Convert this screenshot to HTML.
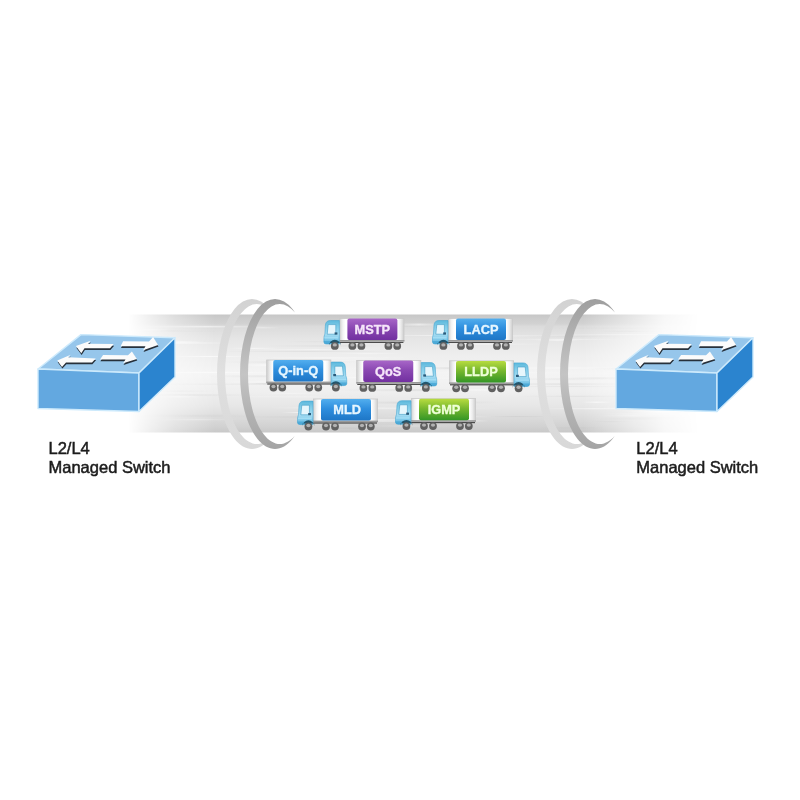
<!DOCTYPE html>
<html><head><meta charset="utf-8"><style>
html,body{margin:0;padding:0;background:#fff;}
body{width:800px;height:800px;overflow:hidden;position:relative;}
svg{position:absolute;left:0;top:0;filter:blur(0.45px);}
.tl{font-family:"Liberation Sans",sans-serif;font-weight:bold;font-size:12.8px;stroke-width:0.35px;}
.cap{position:absolute;font-family:"Liberation Sans",sans-serif;font-size:16.5px;line-height:19px;color:#1c1c1c;white-space:nowrap;-webkit-text-stroke:0.5px #1c1c1c;filter:blur(0.35px);}
</style></head><body>
<svg width="800" height="800" viewBox="0 0 800 800">
<defs>
<linearGradient id="tubeV" x1="0" y1="0" x2="0" y2="1">
<stop offset="0" stop-color="#c6c6c6"/>
<stop offset="0.03" stop-color="#cccccc"/>
<stop offset="0.08" stop-color="#d2d2d2"/>
<stop offset="0.10" stop-color="#dbdbdb"/>
<stop offset="0.20" stop-color="#e5e5e5"/>
<stop offset="0.35" stop-color="#eeeeee"/>
<stop offset="0.5" stop-color="#f4f4f4"/>
<stop offset="0.65" stop-color="#efefef"/>
<stop offset="0.78" stop-color="#e6e6e6"/>
<stop offset="0.88" stop-color="#dadada"/>
<stop offset="0.96" stop-color="#d0d0d0"/>
<stop offset="1" stop-color="#c8c8c8"/>
</linearGradient>
<linearGradient id="fadeH" x1="125" y1="0" x2="705" y2="0" gradientUnits="userSpaceOnUse">
<stop offset="0.005" stop-color="#fff" stop-opacity="0"/>
<stop offset="0.043" stop-color="#fff" stop-opacity="0.3"/>
<stop offset="0.086" stop-color="#fff" stop-opacity="0.62"/>
<stop offset="0.155" stop-color="#fff" stop-opacity="1"/>
<stop offset="0.79" stop-color="#fff" stop-opacity="1"/>
<stop offset="0.87" stop-color="#fff" stop-opacity="0.5"/>
<stop offset="0.93" stop-color="#fff" stop-opacity="0.15"/>
<stop offset="0.99" stop-color="#fff" stop-opacity="0"/>
</linearGradient>
<mask id="tubeMask" maskUnits="userSpaceOnUse" x="0" y="0" width="800" height="800">
<rect x="0" y="0" width="800" height="800" fill="url(#fadeH)"/>
</mask>
<linearGradient id="stW" x1="0" y1="0" x2="1" y2="0">
<stop offset="0" stop-color="#ffffff" stop-opacity="0"/>
<stop offset="0.5" stop-color="#ffffff" stop-opacity="1"/>
<stop offset="1" stop-color="#ffffff" stop-opacity="0"/>
</linearGradient>
<linearGradient id="stG" x1="0" y1="0" x2="1" y2="0">
<stop offset="0" stop-color="#b8b8b8" stop-opacity="0"/>
<stop offset="0.5" stop-color="#b8b8b8" stop-opacity="1"/>
<stop offset="1" stop-color="#b8b8b8" stop-opacity="0"/>
</linearGradient>
<linearGradient id="ringF" x1="0" y1="0" x2="0" y2="1">
<stop offset="0" stop-color="#9e9e9e"/>
<stop offset="0.3" stop-color="#b6b6b6"/>
<stop offset="0.5" stop-color="#c4c4c4"/>
<stop offset="0.7" stop-color="#b6b6b6"/>
<stop offset="1" stop-color="#a4a4a4"/>
</linearGradient>
<linearGradient id="ringB" x1="0" y1="0" x2="0" y2="1">
<stop offset="0" stop-color="#d2d2d2"/>
<stop offset="0.5" stop-color="#e0e0e0"/>
<stop offset="1" stop-color="#d8d8d8"/>
</linearGradient>
<linearGradient id="trl" x1="0" y1="0" x2="1" y2="0">
<stop offset="0" stop-color="#d4d4d4"/>
<stop offset="0.05" stop-color="#f4f4f4"/>
<stop offset="0.09" stop-color="#ffffff"/>
<stop offset="0.9" stop-color="#ffffff"/>
<stop offset="0.95" stop-color="#ececec"/>
<stop offset="1" stop-color="#cccccc"/>
</linearGradient>
<linearGradient id="cab" x1="0" y1="0" x2="0" y2="1">
<stop offset="0" stop-color="#5cb8dc"/>
<stop offset="0.25" stop-color="#80cce8"/>
<stop offset="0.6" stop-color="#a4dcf2"/>
<stop offset="1" stop-color="#5cb6e0"/>
</linearGradient>
<linearGradient id="purple" x1="0" y1="0" x2="0" y2="1">
<stop offset="0" stop-color="#a866c8"/>
<stop offset="0.45" stop-color="#8a48b2"/>
<stop offset="1" stop-color="#7230a0"/>
</linearGradient>
<linearGradient id="blue" x1="0" y1="0" x2="0" y2="1">
<stop offset="0" stop-color="#52aeee"/>
<stop offset="0.45" stop-color="#2e8ede"/>
<stop offset="1" stop-color="#1e76c6"/>
</linearGradient>
<linearGradient id="green" x1="0" y1="0" x2="0" y2="1">
<stop offset="0" stop-color="#b8dc40"/>
<stop offset="0.45" stop-color="#78b82e"/>
<stop offset="1" stop-color="#349626"/>
</linearGradient>
<clipPath id="clipR252"><rect x="192" y="280" width="72" height="200"/></clipPath><clipPath id="clipR275"><rect x="215" y="280" width="80" height="200"/></clipPath><clipPath id="clipR572"><rect x="512" y="280" width="72" height="200"/></clipPath><clipPath id="clipR595"><rect x="535" y="280" width="80" height="200"/></clipPath>
</defs>
<g mask="url(#tubeMask)">
<rect x="125" y="314.5" width="580" height="118" fill="url(#tubeV)"/>
<rect x="600.6" y="413.5" width="99.8" height="1" fill="url(#stW)" opacity="0.51"/><rect x="439.3" y="371.4" width="57.9" height="1" fill="url(#stW)" opacity="0.35"/><rect x="355.6" y="408.1" width="140.8" height="1" fill="url(#stG)" opacity="0.24"/><rect x="245.8" y="327.3" width="34.5" height="1" fill="url(#stW)" opacity="0.45"/><rect x="379.9" y="416.1" width="129.4" height="1" fill="url(#stW)" opacity="0.40"/><rect x="239.4" y="364.2" width="73.4" height="2" fill="url(#stW)" opacity="0.57"/><rect x="154.7" y="330.1" width="32.5" height="1" fill="url(#stG)" opacity="0.16"/><rect x="326.7" y="427.4" width="41.0" height="1.5" fill="url(#stG)" opacity="0.28"/><rect x="127.9" y="330.7" width="91.5" height="1" fill="url(#stG)" opacity="0.15"/><rect x="373.1" y="335.0" width="132.3" height="1" fill="url(#stW)" opacity="0.48"/><rect x="325.3" y="407.7" width="178.5" height="1.5" fill="url(#stW)" opacity="0.60"/><rect x="217.4" y="350.9" width="179.4" height="1" fill="url(#stG)" opacity="0.24"/><rect x="254.3" y="359.6" width="145.9" height="1" fill="url(#stW)" opacity="0.40"/><rect x="451.0" y="327.8" width="32.3" height="1" fill="url(#stW)" opacity="0.52"/><rect x="418.8" y="371.8" width="160.0" height="1" fill="url(#stW)" opacity="0.35"/><rect x="218.7" y="361.2" width="140.9" height="2" fill="url(#stG)" opacity="0.16"/><rect x="339.2" y="377.2" width="45.6" height="1" fill="url(#stW)" opacity="0.64"/><rect x="338.8" y="367.6" width="165.7" height="1" fill="url(#stW)" opacity="0.48"/><rect x="459.8" y="335.4" width="122.4" height="1" fill="url(#stW)" opacity="0.37"/><rect x="333.9" y="353.1" width="67.4" height="1" fill="url(#stW)" opacity="0.40"/><rect x="354.2" y="325.9" width="79.6" height="1" fill="url(#stG)" opacity="0.22"/><rect x="366.9" y="425.5" width="83.6" height="1" fill="url(#stW)" opacity="0.31"/><rect x="285.8" y="419.1" width="179.9" height="1" fill="url(#stW)" opacity="0.49"/><rect x="485.9" y="383.2" width="149.0" height="2" fill="url(#stG)" opacity="0.19"/><rect x="336.9" y="389.2" width="148.6" height="2" fill="url(#stG)" opacity="0.23"/><rect x="157.6" y="395.4" width="43.6" height="2" fill="url(#stW)" opacity="0.39"/><rect x="502.2" y="367.5" width="117.1" height="1" fill="url(#stW)" opacity="0.59"/><rect x="281.3" y="412.0" width="43.2" height="1" fill="url(#stW)" opacity="0.64"/><rect x="598.6" y="415.3" width="68.4" height="1" fill="url(#stW)" opacity="0.41"/><rect x="298.1" y="419.9" width="169.5" height="2" fill="url(#stW)" opacity="0.38"/><rect x="344.1" y="401.6" width="150.9" height="2" fill="url(#stG)" opacity="0.30"/><rect x="229.1" y="347.8" width="50.2" height="1" fill="url(#stW)" opacity="0.61"/><rect x="263.9" y="392.8" width="55.4" height="1" fill="url(#stW)" opacity="0.40"/><rect x="390.4" y="367.2" width="130.8" height="2" fill="url(#stG)" opacity="0.29"/><rect x="264.6" y="345.2" width="121.1" height="1.5" fill="url(#stG)" opacity="0.18"/><rect x="129.9" y="344.2" width="50.4" height="1.5" fill="url(#stW)" opacity="0.31"/><rect x="144.4" y="325.9" width="124.4" height="1.5" fill="url(#stW)" opacity="0.52"/><rect x="223.7" y="380.8" width="101.3" height="2" fill="url(#stW)" opacity="0.30"/><rect x="237.8" y="396.2" width="146.8" height="1" fill="url(#stW)" opacity="0.63"/><rect x="591.2" y="421.1" width="43.1" height="1" fill="url(#stG)" opacity="0.26"/><rect x="581.4" y="401.5" width="31.0" height="1.5" fill="url(#stW)" opacity="0.53"/><rect x="226.5" y="416.5" width="138.3" height="1" fill="url(#stG)" opacity="0.25"/><rect x="629.9" y="347.2" width="176.6" height="1.5" fill="url(#stW)" opacity="0.58"/><rect x="128.1" y="342.1" width="105.7" height="2" fill="url(#stW)" opacity="0.42"/><rect x="134.8" y="371.9" width="151.4" height="1" fill="url(#stW)" opacity="0.58"/><rect x="596.3" y="417.7" width="100.6" height="2" fill="url(#stG)" opacity="0.30"/><rect x="613.6" y="372.2" width="42.9" height="1.5" fill="url(#stW)" opacity="0.48"/><rect x="205.5" y="375.3" width="107.1" height="2" fill="url(#stG)" opacity="0.17"/><rect x="436.9" y="389.2" width="75.7" height="1.5" fill="url(#stW)" opacity="0.49"/><rect x="398.7" y="401.6" width="105.5" height="1" fill="url(#stG)" opacity="0.13"/><rect x="536.6" y="408.2" width="114.4" height="1" fill="url(#stW)" opacity="0.54"/><rect x="598.8" y="370.7" width="150.1" height="2" fill="url(#stW)" opacity="0.39"/><rect x="544.2" y="334.1" width="165.1" height="1" fill="url(#stW)" opacity="0.41"/><rect x="255.3" y="396.0" width="135.3" height="1" fill="url(#stG)" opacity="0.13"/><rect x="287.5" y="341.2" width="83.3" height="1" fill="url(#stG)" opacity="0.14"/><rect x="493.2" y="378.1" width="135.2" height="2" fill="url(#stG)" opacity="0.12"/><rect x="399.9" y="377.7" width="159.6" height="1" fill="url(#stW)" opacity="0.38"/><rect x="565.5" y="377.5" width="64.9" height="1" fill="url(#stG)" opacity="0.28"/><rect x="599.8" y="330.8" width="62.7" height="1" fill="url(#stG)" opacity="0.30"/><rect x="165.8" y="356.0" width="88.2" height="1" fill="url(#stW)" opacity="0.63"/><rect x="535.4" y="339.6" width="44.4" height="1.5" fill="url(#stW)" opacity="0.43"/><rect x="514.2" y="336.2" width="105.4" height="1" fill="url(#stG)" opacity="0.16"/><rect x="516.2" y="395.8" width="122.0" height="1" fill="url(#stG)" opacity="0.22"/><rect x="556.9" y="327.7" width="178.5" height="1" fill="url(#stG)" opacity="0.14"/><rect x="160.4" y="341.1" width="44.5" height="1.5" fill="url(#stW)" opacity="0.45"/><rect x="126.9" y="414.8" width="135.2" height="2" fill="url(#stG)" opacity="0.16"/><rect x="599.4" y="407.2" width="120.7" height="1.5" fill="url(#stW)" opacity="0.58"/><rect x="486.4" y="386.1" width="159.1" height="1" fill="url(#stG)" opacity="0.20"/><rect x="538.5" y="427.4" width="68.7" height="1" fill="url(#stG)" opacity="0.27"/><rect x="586.2" y="368.3" width="162.0" height="1" fill="url(#stG)" opacity="0.27"/><rect x="156.7" y="418.8" width="81.3" height="1.5" fill="url(#stW)" opacity="0.30"/><rect x="145.8" y="390.6" width="70.9" height="1" fill="url(#stG)" opacity="0.18"/><rect x="397.2" y="413.8" width="88.4" height="1" fill="url(#stG)" opacity="0.25"/><rect x="131.9" y="394.1" width="122.3" height="2" fill="url(#stG)" opacity="0.17"/><rect x="457.0" y="420.1" width="31.6" height="1.5" fill="url(#stW)" opacity="0.40"/><rect x="622.9" y="411.8" width="115.2" height="1" fill="url(#stG)" opacity="0.25"/><rect x="616.8" y="417.1" width="88.0" height="1" fill="url(#stG)" opacity="0.20"/><rect x="430.2" y="374.4" width="94.4" height="2" fill="url(#stW)" opacity="0.40"/><rect x="268.6" y="407.1" width="128.3" height="1.5" fill="url(#stW)" opacity="0.40"/><rect x="424.6" y="343.6" width="124.9" height="1" fill="url(#stW)" opacity="0.54"/><rect x="146.1" y="383.7" width="178.3" height="1" fill="url(#stG)" opacity="0.13"/><rect x="626.0" y="410.8" width="66.6" height="2" fill="url(#stW)" opacity="0.63"/><rect x="247.5" y="348.9" width="136.0" height="1" fill="url(#stW)" opacity="0.45"/><rect x="394.6" y="323.5" width="48.6" height="2" fill="url(#stW)" opacity="0.53"/><rect x="474.6" y="416.1" width="84.6" height="1" fill="url(#stG)" opacity="0.28"/><rect x="244.0" y="383.0" width="47.1" height="1.5" fill="url(#stG)" opacity="0.28"/><rect x="497.0" y="339.1" width="134.9" height="1" fill="url(#stW)" opacity="0.40"/><rect x="629.5" y="329.0" width="167.4" height="1" fill="url(#stG)" opacity="0.13"/><rect x="134.0" y="329.3" width="35.7" height="1" fill="url(#stW)" opacity="0.40"/><rect x="242.1" y="357.2" width="177.2" height="1.5" fill="url(#stW)" opacity="0.42"/>
</g>
<g clip-path="url(#clipR252)"><path fill-rule="evenodd" fill="url(#ringB)" d="M252,299 a35,75 0 1,0 0.01,0 Z M256.8,304 a31.8,70 0 1,0 0.01,0 Z"/></g>
<g clip-path="url(#clipR275)"><path fill-rule="evenodd" fill="url(#ringF)" d="M275,299 a35,75 0 1,0 0.01,0 Z M279.8,304 a31.8,70 0 1,0 0.01,0 Z"/></g>
<g clip-path="url(#clipR572)"><path fill-rule="evenodd" fill="url(#ringB)" d="M572,299 a35,75 0 1,0 0.01,0 Z M576.8,304 a31.8,70 0 1,0 0.01,0 Z"/></g>
<g clip-path="url(#clipR595)"><path fill-rule="evenodd" fill="url(#ringF)" d="M595,299 a35,75 0 1,0 0.01,0 Z M599.8,304 a31.8,70 0 1,0 0.01,0 Z"/></g>
<g transform="translate(339.4,318)"><rect x="-9" y="23" width="73" height="2" fill="#4a4a4a"/><rect x="0.4" y="0.4" width="64.2" height="23" fill="url(#trl)" stroke="#c9c9c9" stroke-width="0.8"/><rect x="0" y="22" width="65" height="1.5" fill="#9a9a9a"/><path d="M0,2.5 L-9,2.5 Q-13.5,2.5 -14,7 L-14.5,16 Q-15.5,18 -15.5,21 L-15.5,24 Q-15.5,26 -13,26 L0,26 Z" fill="url(#cab)" stroke="#48a6d2" stroke-width="0.6"/><path d="M-11.2,6.6 L-3.6,6.6 L-3.6,16.2 L-12.2,16.2 Z" fill="#e6f6fc" stroke="#3f9ac4" stroke-width="0.6"/><rect x="-4.8" y="14.4" width="2.8" height="2.2" fill="#2a5a7a"/><path d="M-15,19 L-1.5,19 L-1.5,20.5 L-15,20.5 Z" fill="#a8e0f6" opacity="0.8"/><path d="M-15.5,23 L-6,23 L-6,26 L-13,26 Q-15.5,26 -15.5,24 Z" fill="#3c9fd0" opacity="0.6"/><path d="M-10.4,27.5 A5.8,5.8 0 0,1 1.2,27.5 L1.2,25 L-10.4,25 Z" fill="#23556c"/><circle cx="-4.6" cy="27.9" r="3.9" fill="#606060"/><ellipse cx="-4.6" cy="26.9" rx="2.1" ry="1.7" fill="#b2b2b2"/><circle cx="13" cy="27.9" r="3.9" fill="#606060"/><ellipse cx="13" cy="26.9" rx="2.1" ry="1.7" fill="#b2b2b2"/><circle cx="22" cy="27.9" r="3.9" fill="#606060"/><ellipse cx="22" cy="26.9" rx="2.1" ry="1.7" fill="#b2b2b2"/><circle cx="49" cy="27.9" r="3.9" fill="#606060"/><ellipse cx="49" cy="26.9" rx="2.1" ry="1.7" fill="#b2b2b2"/><circle cx="57.8" cy="27.9" r="3.9" fill="#606060"/><ellipse cx="57.8" cy="26.9" rx="2.1" ry="1.7" fill="#b2b2b2"/></g>
<rect x="347.4" y="318.5" width="50" height="21.5" rx="2" fill="url(#purple)"/>
<text x="372.4" y="333.8" text-anchor="middle" class="tl" fill="#f6e6fa" stroke="#f6e6fa">MSTP</text><g transform="translate(448,318)"><rect x="-9" y="23" width="73" height="2" fill="#4a4a4a"/><rect x="0.4" y="0.4" width="64.2" height="23" fill="url(#trl)" stroke="#c9c9c9" stroke-width="0.8"/><rect x="0" y="22" width="65" height="1.5" fill="#9a9a9a"/><path d="M0,2.5 L-9,2.5 Q-13.5,2.5 -14,7 L-14.5,16 Q-15.5,18 -15.5,21 L-15.5,24 Q-15.5,26 -13,26 L0,26 Z" fill="url(#cab)" stroke="#48a6d2" stroke-width="0.6"/><path d="M-11.2,6.6 L-3.6,6.6 L-3.6,16.2 L-12.2,16.2 Z" fill="#e6f6fc" stroke="#3f9ac4" stroke-width="0.6"/><rect x="-4.8" y="14.4" width="2.8" height="2.2" fill="#2a5a7a"/><path d="M-15,19 L-1.5,19 L-1.5,20.5 L-15,20.5 Z" fill="#a8e0f6" opacity="0.8"/><path d="M-15.5,23 L-6,23 L-6,26 L-13,26 Q-15.5,26 -15.5,24 Z" fill="#3c9fd0" opacity="0.6"/><path d="M-10.4,27.5 A5.8,5.8 0 0,1 1.2,27.5 L1.2,25 L-10.4,25 Z" fill="#23556c"/><circle cx="-4.6" cy="27.9" r="3.9" fill="#606060"/><ellipse cx="-4.6" cy="26.9" rx="2.1" ry="1.7" fill="#b2b2b2"/><circle cx="13" cy="27.9" r="3.9" fill="#606060"/><ellipse cx="13" cy="26.9" rx="2.1" ry="1.7" fill="#b2b2b2"/><circle cx="22" cy="27.9" r="3.9" fill="#606060"/><ellipse cx="22" cy="26.9" rx="2.1" ry="1.7" fill="#b2b2b2"/><circle cx="49" cy="27.9" r="3.9" fill="#606060"/><ellipse cx="49" cy="26.9" rx="2.1" ry="1.7" fill="#b2b2b2"/><circle cx="57.8" cy="27.9" r="3.9" fill="#606060"/><ellipse cx="57.8" cy="26.9" rx="2.1" ry="1.7" fill="#b2b2b2"/></g>
<rect x="456" y="318.5" width="50" height="21.5" rx="2" fill="url(#blue)"/>
<text x="481" y="333.8" text-anchor="middle" class="tl" fill="#e6f6ff" stroke="#e6f6ff">LACP</text><g transform="translate(331.25,359.6) scale(-1,1)"><rect x="-9" y="23" width="73" height="2" fill="#4a4a4a"/><rect x="0.4" y="0.4" width="64.2" height="23" fill="url(#trl)" stroke="#c9c9c9" stroke-width="0.8"/><rect x="0" y="22" width="65" height="1.5" fill="#9a9a9a"/><path d="M0,2.5 L-9,2.5 Q-13.5,2.5 -14,7 L-14.5,16 Q-15.5,18 -15.5,21 L-15.5,24 Q-15.5,26 -13,26 L0,26 Z" fill="url(#cab)" stroke="#48a6d2" stroke-width="0.6"/><path d="M-11.2,6.6 L-3.6,6.6 L-3.6,16.2 L-12.2,16.2 Z" fill="#e6f6fc" stroke="#3f9ac4" stroke-width="0.6"/><rect x="-4.8" y="14.4" width="2.8" height="2.2" fill="#2a5a7a"/><path d="M-15,19 L-1.5,19 L-1.5,20.5 L-15,20.5 Z" fill="#a8e0f6" opacity="0.8"/><path d="M-15.5,23 L-6,23 L-6,26 L-13,26 Q-15.5,26 -15.5,24 Z" fill="#3c9fd0" opacity="0.6"/><path d="M-10.4,27.5 A5.8,5.8 0 0,1 1.2,27.5 L1.2,25 L-10.4,25 Z" fill="#23556c"/><circle cx="-4.6" cy="27.9" r="3.9" fill="#606060"/><ellipse cx="-4.6" cy="26.9" rx="2.1" ry="1.7" fill="#b2b2b2"/><circle cx="13" cy="27.9" r="3.9" fill="#606060"/><ellipse cx="13" cy="26.9" rx="2.1" ry="1.7" fill="#b2b2b2"/><circle cx="22" cy="27.9" r="3.9" fill="#606060"/><ellipse cx="22" cy="26.9" rx="2.1" ry="1.7" fill="#b2b2b2"/><circle cx="49" cy="27.9" r="3.9" fill="#606060"/><ellipse cx="49" cy="26.9" rx="2.1" ry="1.7" fill="#b2b2b2"/><circle cx="57.8" cy="27.9" r="3.9" fill="#606060"/><ellipse cx="57.8" cy="26.9" rx="2.1" ry="1.7" fill="#b2b2b2"/></g>
<rect x="273.25" y="360.1" width="50" height="21.5" rx="2" fill="url(#blue)"/>
<text x="298.25" y="375.40000000000003" text-anchor="middle" class="tl" fill="#e6f6ff" stroke="#e6f6ff">Q-in-Q</text><g transform="translate(421.25,360) scale(-1,1)"><rect x="-9" y="23" width="73" height="2" fill="#4a4a4a"/><rect x="0.4" y="0.4" width="64.2" height="23" fill="url(#trl)" stroke="#c9c9c9" stroke-width="0.8"/><rect x="0" y="22" width="65" height="1.5" fill="#9a9a9a"/><path d="M0,2.5 L-9,2.5 Q-13.5,2.5 -14,7 L-14.5,16 Q-15.5,18 -15.5,21 L-15.5,24 Q-15.5,26 -13,26 L0,26 Z" fill="url(#cab)" stroke="#48a6d2" stroke-width="0.6"/><path d="M-11.2,6.6 L-3.6,6.6 L-3.6,16.2 L-12.2,16.2 Z" fill="#e6f6fc" stroke="#3f9ac4" stroke-width="0.6"/><rect x="-4.8" y="14.4" width="2.8" height="2.2" fill="#2a5a7a"/><path d="M-15,19 L-1.5,19 L-1.5,20.5 L-15,20.5 Z" fill="#a8e0f6" opacity="0.8"/><path d="M-15.5,23 L-6,23 L-6,26 L-13,26 Q-15.5,26 -15.5,24 Z" fill="#3c9fd0" opacity="0.6"/><path d="M-10.4,27.5 A5.8,5.8 0 0,1 1.2,27.5 L1.2,25 L-10.4,25 Z" fill="#23556c"/><circle cx="-4.6" cy="27.9" r="3.9" fill="#606060"/><ellipse cx="-4.6" cy="26.9" rx="2.1" ry="1.7" fill="#b2b2b2"/><circle cx="13" cy="27.9" r="3.9" fill="#606060"/><ellipse cx="13" cy="26.9" rx="2.1" ry="1.7" fill="#b2b2b2"/><circle cx="22" cy="27.9" r="3.9" fill="#606060"/><ellipse cx="22" cy="26.9" rx="2.1" ry="1.7" fill="#b2b2b2"/><circle cx="49" cy="27.9" r="3.9" fill="#606060"/><ellipse cx="49" cy="26.9" rx="2.1" ry="1.7" fill="#b2b2b2"/><circle cx="57.8" cy="27.9" r="3.9" fill="#606060"/><ellipse cx="57.8" cy="26.9" rx="2.1" ry="1.7" fill="#b2b2b2"/></g>
<rect x="363.25" y="360.5" width="50" height="21.5" rx="2" fill="url(#purple)"/>
<text x="388.25" y="375.8" text-anchor="middle" class="tl" fill="#f6e6fa" stroke="#f6e6fa">QoS</text><g transform="translate(514,360.4) scale(-1,1)"><rect x="-9" y="23" width="73" height="2" fill="#4a4a4a"/><rect x="0.4" y="0.4" width="64.2" height="23" fill="url(#trl)" stroke="#c9c9c9" stroke-width="0.8"/><rect x="0" y="22" width="65" height="1.5" fill="#9a9a9a"/><path d="M0,2.5 L-9,2.5 Q-13.5,2.5 -14,7 L-14.5,16 Q-15.5,18 -15.5,21 L-15.5,24 Q-15.5,26 -13,26 L0,26 Z" fill="url(#cab)" stroke="#48a6d2" stroke-width="0.6"/><path d="M-11.2,6.6 L-3.6,6.6 L-3.6,16.2 L-12.2,16.2 Z" fill="#e6f6fc" stroke="#3f9ac4" stroke-width="0.6"/><rect x="-4.8" y="14.4" width="2.8" height="2.2" fill="#2a5a7a"/><path d="M-15,19 L-1.5,19 L-1.5,20.5 L-15,20.5 Z" fill="#a8e0f6" opacity="0.8"/><path d="M-15.5,23 L-6,23 L-6,26 L-13,26 Q-15.5,26 -15.5,24 Z" fill="#3c9fd0" opacity="0.6"/><path d="M-10.4,27.5 A5.8,5.8 0 0,1 1.2,27.5 L1.2,25 L-10.4,25 Z" fill="#23556c"/><circle cx="-4.6" cy="27.9" r="3.9" fill="#606060"/><ellipse cx="-4.6" cy="26.9" rx="2.1" ry="1.7" fill="#b2b2b2"/><circle cx="13" cy="27.9" r="3.9" fill="#606060"/><ellipse cx="13" cy="26.9" rx="2.1" ry="1.7" fill="#b2b2b2"/><circle cx="22" cy="27.9" r="3.9" fill="#606060"/><ellipse cx="22" cy="26.9" rx="2.1" ry="1.7" fill="#b2b2b2"/><circle cx="49" cy="27.9" r="3.9" fill="#606060"/><ellipse cx="49" cy="26.9" rx="2.1" ry="1.7" fill="#b2b2b2"/><circle cx="57.8" cy="27.9" r="3.9" fill="#606060"/><ellipse cx="57.8" cy="26.9" rx="2.1" ry="1.7" fill="#b2b2b2"/></g>
<rect x="456" y="360.9" width="50" height="21.5" rx="2" fill="url(#green)"/>
<text x="481" y="376.2" text-anchor="middle" class="tl" fill="#eeffd6" stroke="#eeffd6">LLDP</text><g transform="translate(313,398.6)"><rect x="-9" y="23" width="73" height="2" fill="#4a4a4a"/><rect x="0.4" y="0.4" width="64.2" height="23" fill="url(#trl)" stroke="#c9c9c9" stroke-width="0.8"/><rect x="0" y="22" width="65" height="1.5" fill="#9a9a9a"/><path d="M0,2.5 L-9,2.5 Q-13.5,2.5 -14,7 L-14.5,16 Q-15.5,18 -15.5,21 L-15.5,24 Q-15.5,26 -13,26 L0,26 Z" fill="url(#cab)" stroke="#48a6d2" stroke-width="0.6"/><path d="M-11.2,6.6 L-3.6,6.6 L-3.6,16.2 L-12.2,16.2 Z" fill="#e6f6fc" stroke="#3f9ac4" stroke-width="0.6"/><rect x="-4.8" y="14.4" width="2.8" height="2.2" fill="#2a5a7a"/><path d="M-15,19 L-1.5,19 L-1.5,20.5 L-15,20.5 Z" fill="#a8e0f6" opacity="0.8"/><path d="M-15.5,23 L-6,23 L-6,26 L-13,26 Q-15.5,26 -15.5,24 Z" fill="#3c9fd0" opacity="0.6"/><path d="M-10.4,27.5 A5.8,5.8 0 0,1 1.2,27.5 L1.2,25 L-10.4,25 Z" fill="#23556c"/><circle cx="-4.6" cy="27.9" r="3.9" fill="#606060"/><ellipse cx="-4.6" cy="26.9" rx="2.1" ry="1.7" fill="#b2b2b2"/><circle cx="13" cy="27.9" r="3.9" fill="#606060"/><ellipse cx="13" cy="26.9" rx="2.1" ry="1.7" fill="#b2b2b2"/><circle cx="22" cy="27.9" r="3.9" fill="#606060"/><ellipse cx="22" cy="26.9" rx="2.1" ry="1.7" fill="#b2b2b2"/><circle cx="49" cy="27.9" r="3.9" fill="#606060"/><ellipse cx="49" cy="26.9" rx="2.1" ry="1.7" fill="#b2b2b2"/><circle cx="57.8" cy="27.9" r="3.9" fill="#606060"/><ellipse cx="57.8" cy="26.9" rx="2.1" ry="1.7" fill="#b2b2b2"/></g>
<rect x="321" y="399.1" width="50" height="21.5" rx="2" fill="url(#blue)"/>
<text x="347.2" y="414.40000000000003" text-anchor="middle" class="tl" fill="#e6f6ff" stroke="#e6f6ff">MLD</text><g transform="translate(411,398.2)"><rect x="-9" y="23" width="73" height="2" fill="#4a4a4a"/><rect x="0.4" y="0.4" width="64.2" height="23" fill="url(#trl)" stroke="#c9c9c9" stroke-width="0.8"/><rect x="0" y="22" width="65" height="1.5" fill="#9a9a9a"/><path d="M0,2.5 L-9,2.5 Q-13.5,2.5 -14,7 L-14.5,16 Q-15.5,18 -15.5,21 L-15.5,24 Q-15.5,26 -13,26 L0,26 Z" fill="url(#cab)" stroke="#48a6d2" stroke-width="0.6"/><path d="M-11.2,6.6 L-3.6,6.6 L-3.6,16.2 L-12.2,16.2 Z" fill="#e6f6fc" stroke="#3f9ac4" stroke-width="0.6"/><rect x="-4.8" y="14.4" width="2.8" height="2.2" fill="#2a5a7a"/><path d="M-15,19 L-1.5,19 L-1.5,20.5 L-15,20.5 Z" fill="#a8e0f6" opacity="0.8"/><path d="M-15.5,23 L-6,23 L-6,26 L-13,26 Q-15.5,26 -15.5,24 Z" fill="#3c9fd0" opacity="0.6"/><path d="M-10.4,27.5 A5.8,5.8 0 0,1 1.2,27.5 L1.2,25 L-10.4,25 Z" fill="#23556c"/><circle cx="-4.6" cy="27.9" r="3.9" fill="#606060"/><ellipse cx="-4.6" cy="26.9" rx="2.1" ry="1.7" fill="#b2b2b2"/><circle cx="13" cy="27.9" r="3.9" fill="#606060"/><ellipse cx="13" cy="26.9" rx="2.1" ry="1.7" fill="#b2b2b2"/><circle cx="22" cy="27.9" r="3.9" fill="#606060"/><ellipse cx="22" cy="26.9" rx="2.1" ry="1.7" fill="#b2b2b2"/><circle cx="49" cy="27.9" r="3.9" fill="#606060"/><ellipse cx="49" cy="26.9" rx="2.1" ry="1.7" fill="#b2b2b2"/><circle cx="57.8" cy="27.9" r="3.9" fill="#606060"/><ellipse cx="57.8" cy="26.9" rx="2.1" ry="1.7" fill="#b2b2b2"/></g>
<rect x="419" y="398.7" width="50" height="21.5" rx="2" fill="url(#green)"/>
<text x="444" y="414.0" text-anchor="middle" class="tl" fill="#eeffd6" stroke="#eeffd6">IGMP</text>
<g transform="translate(0,1)">
<polygon points="81,333.6 175,336.7 139,372 38,368" fill="#96c6eb" stroke="#cdeafc" stroke-width="1.4" stroke-linejoin="round"/>
<polygon points="38,368 139,372 139,410.5 38,407.5" fill="#63a8e0" stroke="#cdeafc" stroke-width="1.4" stroke-linejoin="round"/>
<polygon points="139,372 175,336.7 175,376 139,410.5" fill="#2b84cf" stroke="#cdeafc" stroke-width="1.4" stroke-linejoin="round"/>
</g>
<g transform="translate(0,0)">
<polygon points="75.9,346 90.6,340.7 88,343.8 113.75,344.1 110,348.3 84.5,348.2 81.25,353.2" fill="#27303a" transform="translate(0.4,1.7)"/>
<polygon points="75.9,346 90.6,340.7 88,343.8 113.75,344.1 110,348.3 84.5,348.2 81.25,353.2" fill="#fbfbfb"/>
<polygon points="57.3,360.6 70.75,354.7 68,357.2 95.75,358.4 92,362.6 66,362.5 62,366.9" fill="#27303a" transform="translate(0.4,1.7)"/>
<polygon points="57.3,360.6 70.75,354.7 68,357.2 95.75,358.4 92,362.6 66,362.5 62,366.9" fill="#fbfbfb"/>
<polygon points="123.1,341.2 149,341.6 153.1,337.1 158.1,344.9 143.1,350.25 145.5,346.3 120.6,346.2" fill="#27303a" transform="translate(0.4,1.7)"/>
<polygon points="123.1,341.2 149,341.6 153.1,337.1 158.1,344.9 143.1,350.25 145.5,346.3 120.6,346.2" fill="#fbfbfb"/>
<polygon points="103.1,354.9 128,355.2 131.9,351.4 136.9,358.9 123.1,363.3 125.5,359.6 100,359.6" fill="#27303a" transform="translate(0.4,1.7)"/>
<polygon points="103.1,354.9 128,355.2 131.9,351.4 136.9,358.9 123.1,363.3 125.5,359.6 100,359.6" fill="#fbfbfb"/>
</g>
<g transform="translate(578,1)">
<polygon points="81,333.6 175,336.7 139,372 38,368" fill="#96c6eb" stroke="#cdeafc" stroke-width="1.4" stroke-linejoin="round"/>
<polygon points="38,368 139,372 139,410.5 38,407.5" fill="#63a8e0" stroke="#cdeafc" stroke-width="1.4" stroke-linejoin="round"/>
<polygon points="139,372 175,336.7 175,376 139,410.5" fill="#2b84cf" stroke="#cdeafc" stroke-width="1.4" stroke-linejoin="round"/>
</g>
<g transform="translate(578,0)">
<polygon points="75.9,346 90.6,340.7 88,343.8 113.75,344.1 110,348.3 84.5,348.2 81.25,353.2" fill="#27303a" transform="translate(0.4,1.7)"/>
<polygon points="75.9,346 90.6,340.7 88,343.8 113.75,344.1 110,348.3 84.5,348.2 81.25,353.2" fill="#fbfbfb"/>
<polygon points="57.3,360.6 70.75,354.7 68,357.2 95.75,358.4 92,362.6 66,362.5 62,366.9" fill="#27303a" transform="translate(0.4,1.7)"/>
<polygon points="57.3,360.6 70.75,354.7 68,357.2 95.75,358.4 92,362.6 66,362.5 62,366.9" fill="#fbfbfb"/>
<polygon points="123.1,341.2 149,341.6 153.1,337.1 158.1,344.9 143.1,350.25 145.5,346.3 120.6,346.2" fill="#27303a" transform="translate(0.4,1.7)"/>
<polygon points="123.1,341.2 149,341.6 153.1,337.1 158.1,344.9 143.1,350.25 145.5,346.3 120.6,346.2" fill="#fbfbfb"/>
<polygon points="103.1,354.9 128,355.2 131.9,351.4 136.9,358.9 123.1,363.3 125.5,359.6 100,359.6" fill="#27303a" transform="translate(0.4,1.7)"/>
<polygon points="103.1,354.9 128,355.2 131.9,351.4 136.9,358.9 123.1,363.3 125.5,359.6 100,359.6" fill="#fbfbfb"/>
</g>
</svg>
<div class="cap" style="left:48.5px;top:438.8px;">L2/L4<br>Managed Switch</div>
<div class="cap" style="left:636.3px;top:438.8px;">L2/L4<br>Managed Switch</div>
</body></html>
